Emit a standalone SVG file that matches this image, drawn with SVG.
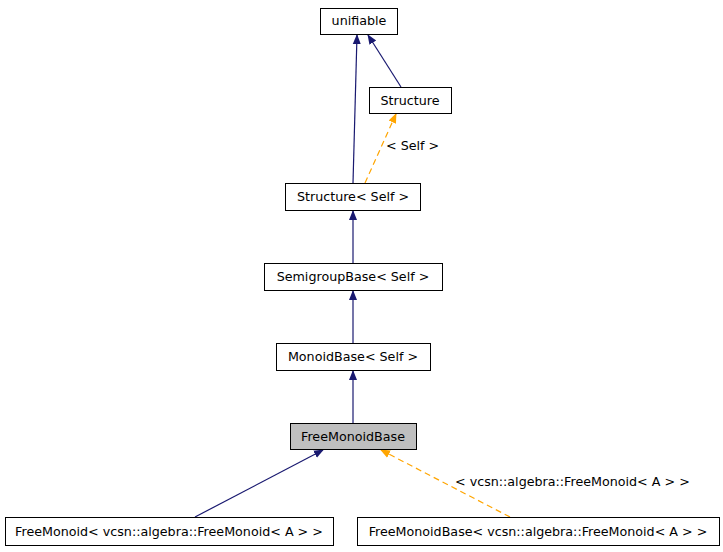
<svg xmlns="http://www.w3.org/2000/svg" width="723" height="552" viewBox="0 0 723 552">
<style>
.n rect{fill:#fff;stroke:#000;stroke-width:1}
text{font-family:"DejaVu Sans",sans-serif;font-size:12.7px;fill:#000}
.n text{text-anchor:middle}
.e{fill:none;stroke:#191970;stroke-width:1.2}
.d{fill:none;stroke:#ffa500;stroke-width:1.2;stroke-dasharray:6,4}
</style>
<defs>
<marker id="a" markerWidth="10" markerHeight="10" refX="9" refY="5" orient="auto" markerUnits="userSpaceOnUse"><path d="M0,1 L10,5 L0,9 Z" fill="#191970"/></marker>
<marker id="o" markerWidth="10" markerHeight="10" refX="9" refY="5" orient="auto" markerUnits="userSpaceOnUse"><path d="M0,1 L10,5 L0,9 Z" fill="#ffa500"/></marker>
</defs>
<rect width="723" height="552" fill="#fff"/>
<g id="edges">
<path class="e" d="M353,183 L357,35" marker-end="url(#a)"/>
<path class="e" d="M401,87 L368,35" marker-end="url(#a)"/>
<path class="d" d="M365,183 L396,114" marker-end="url(#o)"/>
<text x="386" y="150">&lt; Self &gt;</text>
<path class="e" d="M353,263 L353,211" marker-end="url(#a)"/>
<path class="e" d="M353,343 L353,291" marker-end="url(#a)"/>
<path class="e" d="M353,423 L353,371" marker-end="url(#a)"/>
<path class="e" d="M195,517 L323,450" marker-end="url(#a)"/>
<path class="d" d="M510,517 L381,450" marker-end="url(#o)"/>
<text x="455" y="486">&lt; vcsn::algebra::FreeMonoid&lt; A &gt; &gt;</text>
</g>
<g id="unifiable" class="n"><rect x="320.5" y="8.5" width="77" height="26"/><text x="359" y="25">unifiable</text></g>
<g id="structure" class="n"><rect x="369.5" y="87.5" width="82" height="26"/><text x="410" y="105">Structure</text></g>
<g id="structureSelf" class="n"><rect x="285.5" y="183.5" width="135" height="27"/><text x="353" y="201">Structure&lt; Self &gt;</text></g>
<g id="semigroup" class="n"><rect x="264.5" y="263.5" width="178" height="27"/><text x="353" y="281">SemigroupBase&lt; Self &gt;</text></g>
<g id="monoid" class="n"><rect x="276.5" y="343.5" width="154" height="27"/><text x="353" y="361">MonoidBase&lt; Self &gt;</text></g>
<g id="freemonoidbase" class="n"><rect x="290.5" y="423.5" width="126" height="26" style="fill:#bfbfbf"/><text x="353" y="441">FreeMonoidBase</text></g>
<g id="freemonoid" class="n"><rect x="5.5" y="517.5" width="328" height="28"/><text x="169" y="536">FreeMonoid&lt; vcsn::algebra::FreeMonoid&lt; A &gt; &gt;</text></g>
<g id="freemonoidbaseinst" class="n"><rect x="357.5" y="517.5" width="362" height="28"/><text x="538" y="536">FreeMonoidBase&lt; vcsn::algebra::FreeMonoid&lt; A &gt; &gt;</text></g>
</svg>
